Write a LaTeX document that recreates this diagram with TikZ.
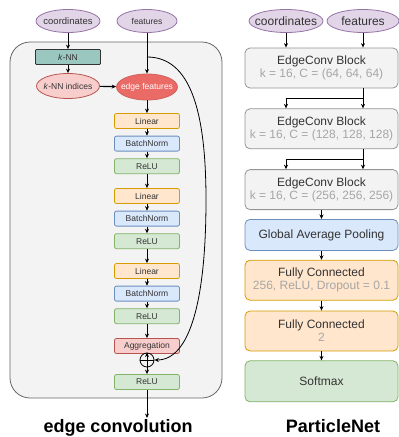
\documentclass[tikz,border=0pt]{standalone}
\usepackage{fontspec}
\setmainfont{Liberation Sans}
\usetikzlibrary{arrows.meta,positioning,shapes.geometric,calc}
\definecolor{inpfill}{HTML}{E1D5E7}
\definecolor{inpdraw}{HTML}{9673A6}
\definecolor{knnfill}{HTML}{9AC7BF}
\definecolor{redfill}{HTML}{F8CECC}
\definecolor{reddraw}{HTML}{B85450}
\definecolor{edgefill}{HTML}{EA6B66}
\definecolor{linfill}{HTML}{FFE6CC}
\definecolor{lindraw}{HTML}{D79B00}
\definecolor{bnfill}{HTML}{DAE8FC}
\definecolor{bndraw}{HTML}{6C8EBF}
\definecolor{relufill}{HTML}{D5E8D4}
\definecolor{reludraw}{HTML}{82B366}
\definecolor{panelfill}{HTML}{F3F3F3}
\definecolor{paneldraw}{HTML}{666666}
\definecolor{textdark}{HTML}{333333}
\definecolor{textsub}{HTML}{A6A6A6}

\begin{document}
\begin{tikzpicture}[x=1pt,y=-1pt,>={Stealth[length=4.5pt,width=4pt]},
  every path/.style={line width=0.8pt},
  inp/.style={ellipse,draw=inpdraw,fill=inpfill,inner xsep=-12pt,inner ysep=0pt,text=textdark},
  layer/.style={draw,rounded corners=2pt,minimum width=65pt,minimum height=15pt,
    inner sep=0pt,font=\fontsize{8.5}{10}\selectfont,text=textdark},
  linbox/.style={layer,draw=lindraw,fill=linfill},
  bnbox/.style={layer,draw=bndraw,fill=bnfill},
  relubox/.style={layer,draw=reludraw,fill=relufill},
  block/.style={draw,rounded corners=5pt,minimum width=153pt,minimum height=40pt,
    inner sep=0pt,align=center,text=textdark,font=\fontsize{12}{14}\selectfont},
  convblock/.style={block,draw=paneldraw!70,fill=panelfill},
  title/.style={font=\fontsize{18}{20}\selectfont\bfseries},
  small/.style={node distance=6.8pt},
  large/.style={node distance=14pt}]
  \useasboundingbox (0,0) rectangle (399,437);

  % ---- edge convolution ----
  \draw[draw=paneldraw,fill=panelfill,rounded corners=20pt] (10,42) rectangle (222,398);
  \node[inp,minimum width=64pt,minimum height=23pt,font=\fontsize{9.5}{11}\selectfont] (coordL) at (68,21) {coordinates};
  \node[inp,minimum width=60pt,minimum height=23pt,font=\fontsize{8.5}{10}\selectfont] (featL) at (147,21) {features};
  \node[layer,draw=black!80,fill=knnfill,rounded corners=1pt] (knn) at (68,57) {\textit{k}-NN};
  \node[ellipse,draw=reddraw,fill=redfill,minimum width=63pt,minimum height=25pt,inner xsep=-8pt,inner ysep=0pt,
    text=textdark,font=\fontsize{8.5}{10}\selectfont] (knnidx) at (68,86) {\textit{k}-NN indices};
  \node[ellipse,draw=edgefill!90!black,fill=edgefill,minimum width=61pt,minimum height=26pt,inner xsep=-8pt,inner ysep=0pt,
    text=white,font=\fontsize{8.5}{10}\selectfont] (edgef) at (147,87) {edge features};
  \node[linbox] (lin1) at (147,121) {Linear};
  \node[bnbox,small,below=of lin1] (bn1) {BatchNorm};
  \node[relubox,small,below=of bn1] (relu1) {ReLU};
  \node[linbox,large,below=of relu1] (lin2) {Linear};
  \node[bnbox,small,below=of lin2] (bn2) {BatchNorm};
  \node[relubox,small,below=of bn2] (relu2) {ReLU};
  \node[linbox,large,below=of relu2] (lin3) {Linear};
  \node[bnbox,small,below=of lin3] (bn3) {BatchNorm};
  \node[relubox,small,below=of bn3] (relu3) {ReLU};
  \node[layer,large,below=of relu3,draw=reddraw,fill=redfill] (agg) {Aggregation};
  \node[circle,draw=black,minimum size=14pt,inner sep=0pt] (plus) at (147,360) {};
  \node[relubox] (relu4) at (147,382) {ReLU};
  \coordinate (outL) at (147,418);
  \coordinate (skip) at (147,57);
  \node[title] (titleL) at (118,428) {edge convolution};

  \draw[->] (coordL) -- (knn);
  \draw[->] (knn) -- (knnidx);
  \draw[->,line width=1.1pt] (knnidx) -- (edgef);
  \draw[->] (featL) -- (edgef);
  \draw[->] (edgef) -- (lin1);
  \draw[->] (lin1) -- (bn1);
  \draw[->] (bn1) -- (relu1);
  \draw[->] (relu1) -- (lin2);
  \draw[->] (lin2) -- (bn2);
  \draw[->] (bn2) -- (relu2);
  \draw[->] (relu2) -- (lin3);
  \draw[->] (lin3) -- (bn3);
  \draw[->] (bn3) -- (relu3);
  \draw[->] (relu3) -- (agg);
  \draw[->] (agg) -- (plus.north);
  \draw (plus.north) -- (plus.south) (plus.west) -- (plus.east);
  \draw[->] (plus.south) -- (relu4);
  \draw[->] (relu4) -- (outL);
  \draw[->] (skip) .. controls (190,57) and (206,110) .. (206,200)
    .. controls (206,300) and (190,360) .. (plus.east);

  % ---- ParticleNet ----
  \node[inp,minimum width=74pt,minimum height=23pt,font=\fontsize{12}{14}\selectfont] (coordR) at (286,21) {coordinates};
  \node[inp,minimum width=72pt,minimum height=23pt,font=\fontsize{12}{14}\selectfont] (featR) at (363,21) {features};
  \node[convblock] (b1) at (321.5,68) {EdgeConv Block\\[-1pt] \textcolor{textsub}{k = 16, C = (64, 64, 64)}};
  \node[convblock,below=20pt of b1] (b2) {EdgeConv Block\\[-1pt] \textcolor{textsub}{k = 16, C = (128, 128, 128)}};
  \node[convblock,below=20pt of b2] (b3) {EdgeConv Block\\[-1pt] \textcolor{textsub}{k = 16, C = (256, 256, 256)}};
  \node[block,draw=bndraw,fill=bnfill,minimum height=31pt,below=9pt of b3] (gap) {Global Average Pooling};
  \node[block,draw=lindraw,fill=linfill,below=9pt of gap] (fc1) {Fully Connected\\[-1pt] \textcolor{textsub}{256, ReLU, Dropout = 0.1}};
  \node[block,draw=lindraw,fill=linfill,below=10pt of fc1] (fc2) {Fully Connected\\[-1pt] \textcolor{textsub}{2}};
  \node[block,draw=reludraw,fill=relufill,minimum height=41pt,below=9pt of fc2] (soft) {Softmax};
  \node[title] (titleR) at (333,426) {ParticleNet};

  \draw[->] (coordR.south) -- (coordR.south |- b1.north);
  \draw[->] (featR.south) -- (featR.south |- b1.north);
  \coordinate (s1) at ($(b1.south -| featR.south)!0.5!(b2.north -| featR.south)$);
  \coordinate (s2) at ($(b2.south -| featR.south)!0.5!(b3.north -| featR.south)$);
  \draw (b1.south -| featR.south) -- (s1);
  \draw[->] (s1) -- (b2.north -| featR.south);
  \draw[->] (s1) -| (b2.north -| coordR.south);
  \draw (b2.south -| featR.south) -- (s2);
  \draw[->] (s2) -- (b3.north -| featR.south);
  \draw[->] (s2) -| (b3.north -| coordR.south);
  \draw[->] (b3) -- (gap);
  \draw[->] (gap) -- (fc1);
  \draw[->] (fc1) -- (fc2);
  \draw[->] (fc2) -- (soft);
\end{tikzpicture}
\end{document}
